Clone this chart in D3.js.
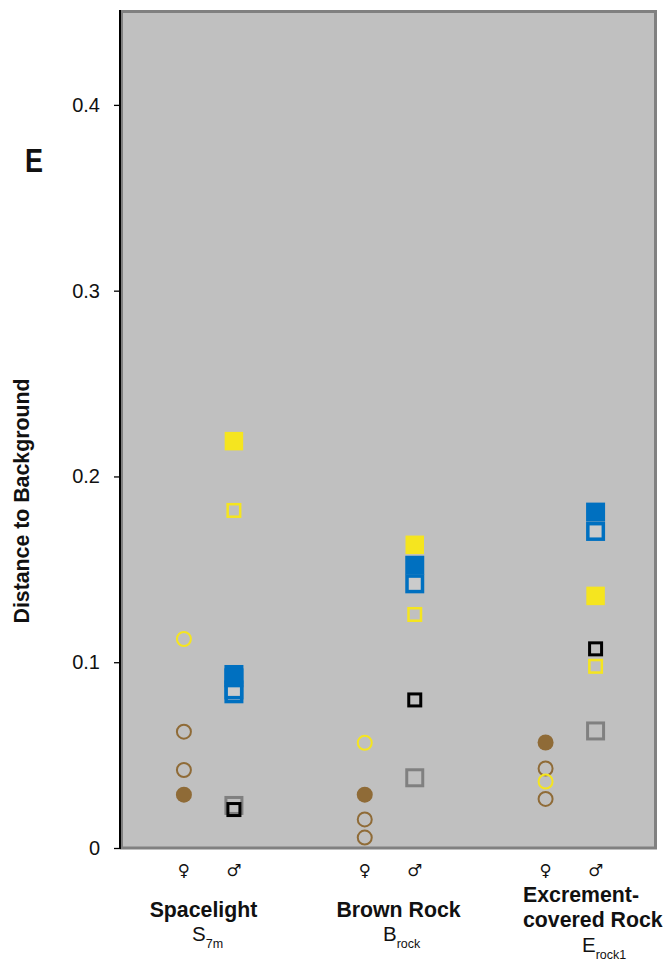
<!DOCTYPE html>
<html>
<head>
<meta charset="utf-8">
<script src="https://cdn.jsdelivr.net/npm/d3@7"></script>
<style>
  html, body { margin: 0; padding: 0; background: #ffffff; }
  svg { display: block; font-family: "Liberation Sans", Arial, sans-serif; }
</style>
</head>
<body>
<svg id="chart" width="666" height="961"></svg>
<script>
// Habitats (x groups) and sexes within each group
const groups = ["Spacelight", "Brown Rock", "Excrement-covered Rock"];
const sexes = ["\u2640", "\u2642"];
const yTicks = [0, 0.1, 0.2, 0.3, 0.4];

// Females: circles
const femaleBrownOpen   = [[0.0626, 0.0420], [0.0154, 0.0056], [0.0428, 0.0264]];
const femaleBrownFilled = [0.0287, 0.0287, 0.0568];
const femaleYellowOpen  = [0.1125, 0.0566, 0.0358];

// Males: squares
const maleGrayOpen     = [0.0229, 0.0378, 0.0630];
const maleBlackOpen    = [0.0207, 0.0797, 0.1072];
const maleYellowOpen   = [0.1817, 0.1257, 0.0978];
const maleYellowFilled = [0.2190, 0.1632, 0.1357];
const maleBlueOpen     = [[0.0830, 0.0851], [0.1422], [0.1704]];
const maleBlueFilled   = [[0.0934, 0.0916], [0.1522], [0.1808]];

const colors = {
  brown: "#8f6b37",
  yellow: "#f5e51f",
  blue: "#0070c0",
  gray: "#808080",
  black: "#000000",
  plotBg: "#c0c0c0",
  blueInner: "#cbcbcb"
};

const svg = d3.select("#chart");

const plot = { left: 120, right: 657, top: 11, bottom: 848 };

const y = d3.scaleLinear().domain([0, 0.45]).range([plot.bottom, 12]);
const xGroup = d3.scaleBand().domain(groups).range([118.5, 661]);
const xSex = d3.scalePoint().domain(sexes).range([-25, 25]);
const xPos = (gi, sex) => xGroup(groups[gi]) + xGroup.bandwidth() / 2 + xSex(sex);

// Plot area with grey frame
svg.append("rect")
  .attr("x", plot.left + 1.5).attr("y", plot.top + 0.5)
  .attr("width", plot.right - plot.left - 3).attr("height", plot.bottom - plot.top - 0.5)
  .attr("fill", colors.plotBg)
  .attr("stroke", colors.gray).attr("stroke-width", 3);

// Y axis
const yAxis = d3.axisLeft(y)
  .tickValues(yTicks)
  .tickSize(6)
  .tickSizeOuter(0)
  .tickPadding(14)
  .tickFormat(d => d === 0 ? "0" : d3.format(".1f")(d));

const gAxis = svg.append("g")
  .attr("transform", `translate(${plot.left},0)`)
  .call(yAxis);
gAxis.select(".domain").attr("stroke", "#000").attr("stroke-width", 2)
  .attr("d", `M0,${plot.bottom + 1}V10`);
gAxis.selectAll(".tick line").attr("stroke", "#000").attr("stroke-width", 1.3);
gAxis.selectAll(".tick text")
  .attr("font-size", 20).attr("fill", "#111")
  .attr("font-family", "Liberation Sans, Arial, sans-serif");

// Y axis title
svg.append("text")
  .attr("transform", "translate(29,501) rotate(-90)")
  .attr("text-anchor", "middle")
  .attr("font-weight", "bold").attr("font-size", 21.3).attr("fill", "#111")
  .text("Distance to Background");

// Panel letter
svg.append("text")
  .attr("x", 25).attr("y", 172)
  .attr("font-weight", "bold").attr("font-size", 33).attr("fill", "#111")
  .attr("textLength", 18).attr("lengthAdjust", "spacingAndGlyphs")
  .text("E");

const marks = svg.append("g");

function circles(values, sexIdx, r, sw, fill, stroke) {
  const pts = [];
  values.forEach((v, gi) => [].concat(v).forEach(val => pts.push({ gi, val })));
  marks.append("g").selectAll("circle").data(pts).join("circle")
    .attr("cx", d => xPos(d.gi, sexes[sexIdx]))
    .attr("cy", d => y(d.val))
    .attr("r", r)
    .attr("fill", fill)
    .attr("stroke", stroke)
    .attr("stroke-width", sw);
}

function squares(values, sexIdx, outer, sw, fill, stroke) {
  const pts = [];
  values.forEach((v, gi) => [].concat(v).forEach(val => pts.push({ gi, val })));
  const s = outer - sw;
  marks.append("g").selectAll("rect").data(pts).join("rect")
    .attr("x", d => xPos(d.gi, sexes[sexIdx]) - s / 2)
    .attr("y", d => y(d.val) - s / 2)
    .attr("width", s).attr("height", s)
    .attr("fill", fill)
    .attr("stroke", stroke)
    .attr("stroke-width", sw);
}

// Females
circles(femaleBrownOpen, 0, 7, 2, "none", colors.brown);
circles(femaleBrownFilled, 0, 8, 0, colors.brown, "none");
circles(femaleYellowOpen, 0, 7, 2, "none", colors.yellow);

// Males
squares(maleGrayOpen, 1, 19, 3, "none", colors.gray);
squares(maleBlackOpen, 1, 15, 3, "none", colors.black);
squares(maleYellowOpen, 1, 15, 2.5, "none", colors.yellow);
squares(maleBlueOpen, 1, 19, 3.5, colors.blueInner, colors.blue);
squares(maleBlueFilled, 1, 19, 0, colors.blue, "none");
squares(maleYellowFilled, 1, 18.5, 0, colors.yellow, "none");

// Sex symbols under each group
const sexRow = svg.append("g");
groups.forEach((g, gi) => {
  sexes.forEach(sx => {
    sexRow.append("text")
      .attr("x", xPos(gi, sx)).attr("y", 876)
      .attr("text-anchor", "middle")
      .attr("font-family", "DejaVu Sans, sans-serif")
      .attr("font-size", 16.5).attr("fill", "#111")
      .text(sx);
  });
});

// Group labels: name lines and a symbol with subscript
const labelLines = [["Spacelight"], ["Brown Rock"], ["Excrement-", "covered Rock"]];
const symbolMain = ["S", "B", "E"];
const symbolSub = ["7m", "rock", "rock1"];
const labelLayout = [
  { x: 203.5, anchor: "middle", y0: 917, symX: 192, symY: 941 },
  { x: 398.5, anchor: "middle", y0: 917, symX: 383, symY: 941 },
  { x: 523, anchor: "start", y0: 902, symX: 582, symY: 952 }
];

groups.forEach((g, gi) => {
  const L = labelLayout[gi];
  labelLines[gi].forEach((line, li) => {
    svg.append("text")
      .attr("x", L.x).attr("y", L.y0 + li * 25)
      .attr("text-anchor", L.anchor)
      .attr("font-weight", "bold").attr("font-size", 21.3).attr("fill", "#111")
      .text(line);
  });
  const t = svg.append("text")
    .attr("x", L.symX).attr("y", L.symY)
    .attr("font-size", 20.5).attr("fill", "#111");
  t.append("tspan").text(symbolMain[gi]);
  t.append("tspan").attr("dy", 7).attr("font-size", 12.5).text(symbolSub[gi]);
});
</script>
</body>
</html>
